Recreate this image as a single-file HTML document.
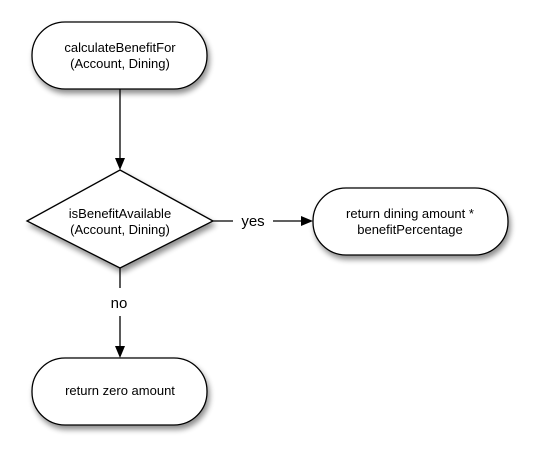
<!DOCTYPE html>
<html><head><style>body{margin:0;background:#fff}</style></head><body>
<svg width="534" height="457" xmlns="http://www.w3.org/2000/svg" font-family="Liberation Sans, sans-serif">
<defs>
<filter id="s" x="-20%" y="-20%" width="140%" height="160%"><feGaussianBlur in="SourceAlpha" stdDeviation="3"/><feOffset dx="2" dy="4"/><feComponentTransfer><feFuncA type="linear" slope="0.45"/></feComponentTransfer><feMerge><feMergeNode/><feMergeNode in="SourceGraphic"/></feMerge></filter>
</defs>
<g fill="#fff" stroke="#000" stroke-width="1.3" filter="url(#s)">
<rect x="32" y="22" width="175" height="67" rx="33"/>
<polygon points="120,170 213,221 120,268 27,221"/>
<rect x="313" y="188" width="195" height="67" rx="33"/>
<rect x="32" y="358" width="175" height="67" rx="33"/>
</g>
<g stroke="#000" stroke-width="1.3">
<line x1="120" y1="89" x2="120" y2="160"/>
<line x1="213" y1="221" x2="233" y2="221"/>
<line x1="273" y1="221" x2="303" y2="221"/>
<line x1="120" y1="268" x2="120" y2="288"/>
<line x1="120" y1="316" x2="120" y2="348"/>
</g>
<polygon points="115,158 125,158 120,170"/>
<polygon points="301,216 301,226 313,221"/>
<polygon points="115,346 125,346 120,358"/>
<g font-size="13" text-anchor="middle">
<text x="120" y="52">calculateBenefitFor</text>
<text x="120" y="68">(Account, Dining)</text>
<text x="120" y="218">isBenefitAvailable</text>
<text x="120" y="234">(Account, Dining)</text>
<text x="410" y="218">return dining amount *</text>
<text x="410" y="234">benefitPercentage</text>
<text x="120" y="395">return zero amount</text>
</g>
<g font-size="15" text-anchor="middle">
<text x="253" y="226">yes</text>
<text x="119" y="308">no</text>
</g>
</svg>
</body></html>
